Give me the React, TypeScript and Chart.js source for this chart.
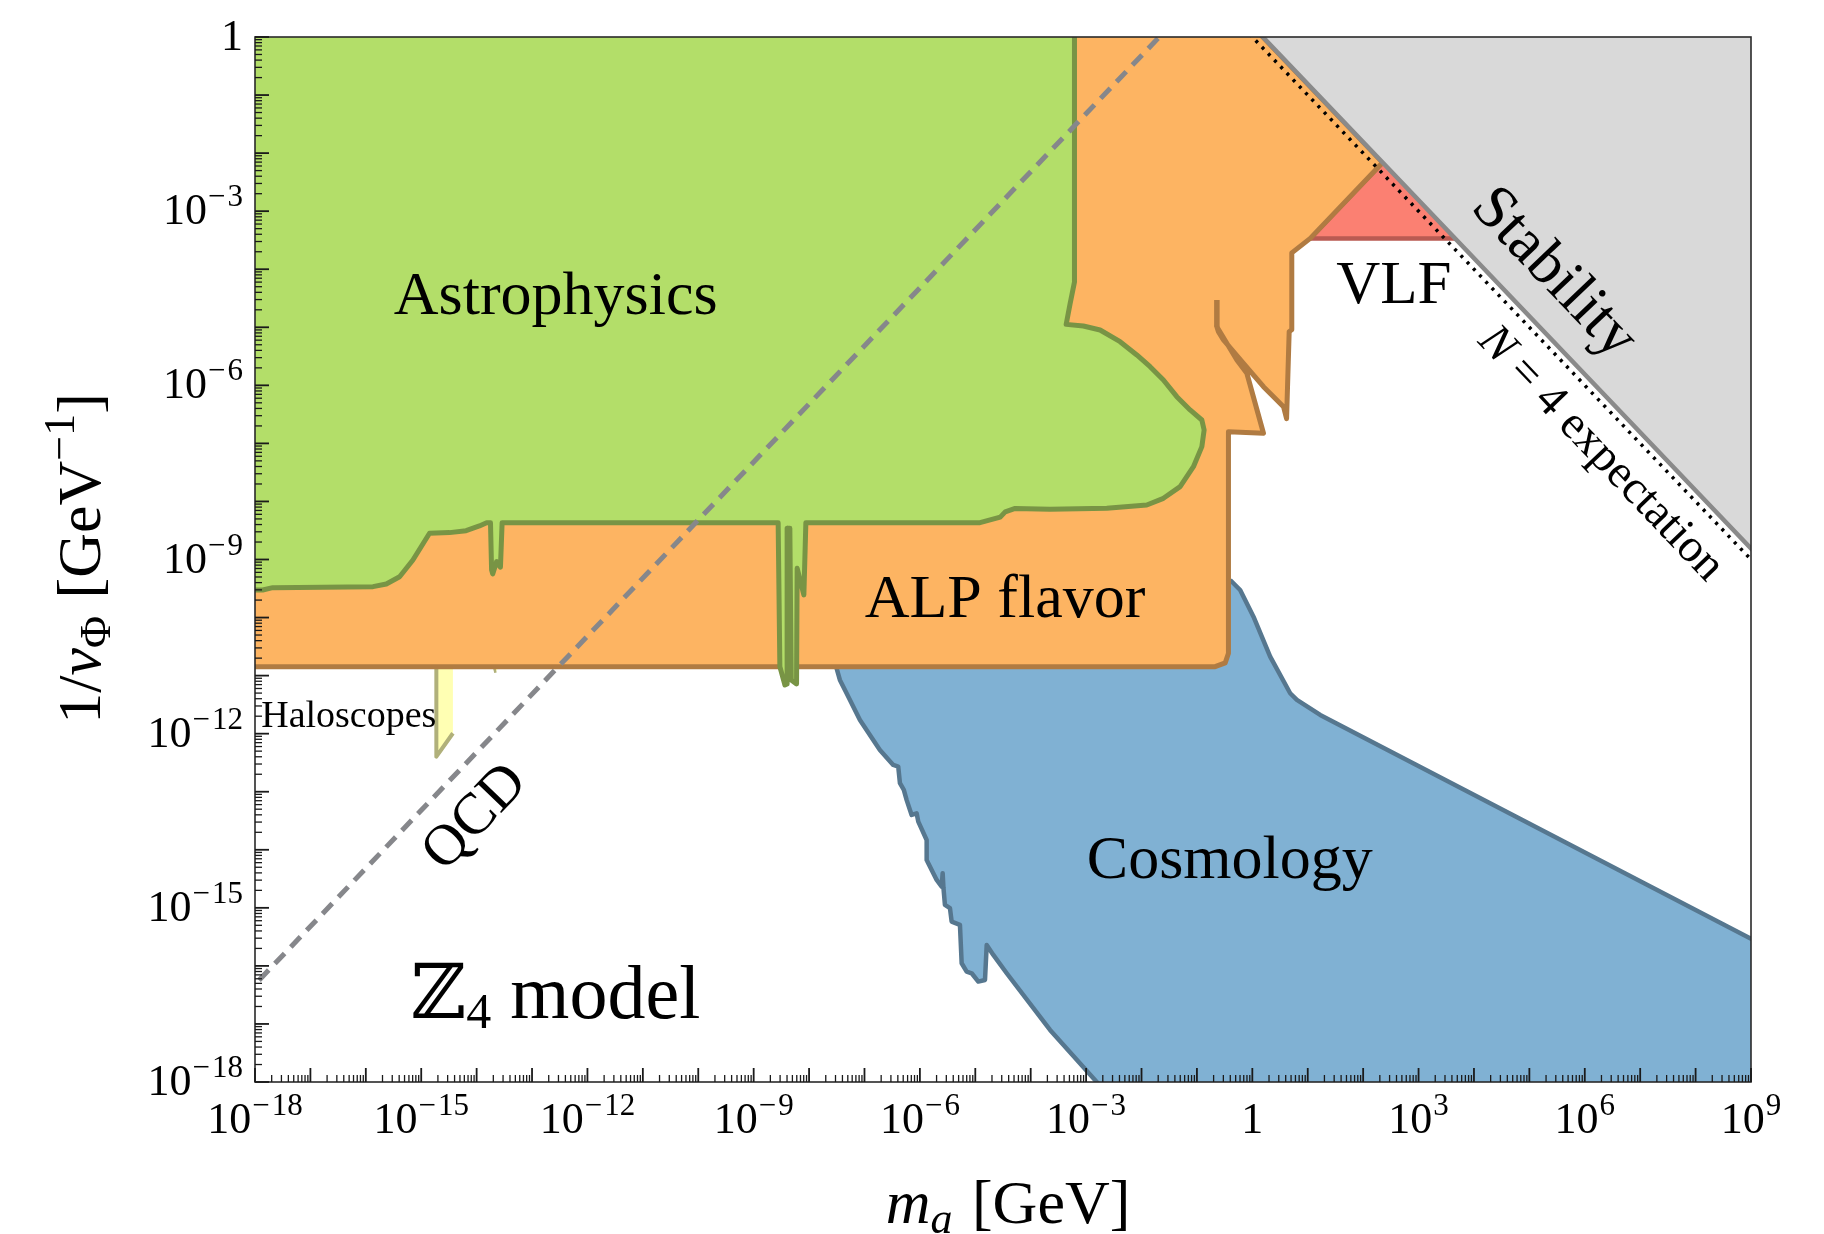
import React, { useEffect, useRef } from "react";
import { Chart, registerables } from "chart.js";

Chart.register(...registerables);

type P = [number, number]; // [log10 m_a (GeV), log10 1/v_Phi (GeV^-1)]

// ---- Region boundaries (log10 values) ----
const cosmology: P[] = [
  [-0.5, -9.3], [-7.55, -10.6], [-7.503, -10.874], [-7.444, -11.075], [-7.323, -11.304], [-7.082, -11.764],
  [-6.722, -12.281], [-6.481, -12.539], [-6.391, -12.567], [-6.36, -12.854], [-6.29, -12.97], [-6.24, -13.14],
  [-6.149, -13.4], [-6.059, -13.371], [-6.029, -13.515], [-5.878, -13.831], [-5.878, -14.175], [-5.697, -14.52],
  [-5.607, -14.635], [-5.589, -14.404], [-5.575, -14.65], [-5.548, -14.95], [-5.457, -15.007], [-5.427, -15.237],
  [-5.277, -15.294], [-5.246, -15.955], [-5.156, -16.098], [-5.065, -16.127], [-4.946, -16.27], [-4.825, -16.242],
  [-4.794, -15.639], [-4.675, -15.811], [-4.433, -16.127], [-3.651, -17.103], [-2.869, -17.935], [-2.34, -18.5],
  [9.5, -18.5], [9.5, -15.78], [1.225, -11.678], [0.804, -11.419], [0.683, -11.304], [0.322, -10.674],
  [0.021, -9.985], [-0.22, -9.525], [-0.4, -9.353],
];

const haloscopes: P[] = [[-14.428, -11.993], [-14.727, -12.396], [-14.727, -10.5], [-14.428, -10.5]];
const haloscopesSmall: P[] = [[-13.58, -10.8], [-13.7, -10.8], [-13.66, -10.95]];

const vlf: P[] = [[2.352, -2.162], [1.045, -3.469], [3.66, -3.469]];

const alpFlavor: P[] = [
  [-18, 0.5], [-0.31, 0.5], [2.352, -2.162], [1.045, -3.469], [0.712, -3.719], [0.712, -5.04], [0.665, -5.076],
  [0.618, -6.574], [0.563, -6.368], [0.201, -6.023], [-0.16, -5.62], [-0.521, -5.219], [-0.612, -5.076],
  [-0.64, -4.99], [-0.55, -5.133], [-0.279, -5.563], [-0.099, -5.792], [0.201, -6.826], [-0.431, -6.798],
  [-0.431, -10.615], [-0.49, -10.782], [-0.671, -10.846], [-18, -10.846],
];
const alpFlavorNotch: P[] = [[-0.64, -4.53], [-0.64, -4.99]];

const astrophysics: P[] = [
  [-18.5, 0.5], [-3.21, 0.5], [-3.21, -4.22], [-3.29, -4.6], [-3.36, -4.95], [-3.05, -4.978], [-2.748, -5.047],
  [-2.387, -5.248], [-2.085, -5.477], [-1.845, -5.679], [-1.605, -5.908], [-1.363, -6.195], [-1.123, -6.424],
  [-0.911, -6.597], [-0.87, -6.769], [-0.911, -7.056], [-1.063, -7.401], [-1.303, -7.745], [-1.605, -7.946],
  [-1.905, -8.061], [-2.627, -8.118], [-3.651, -8.135], [-4.28, -8.12], [-4.46, -8.18], [-4.55, -8.27],
  [-4.915, -8.366], [-8.058, -8.366], [-8.094, -9.611], [-8.215, -9.151], [-8.226, -11.144], [-8.323, -11.075],
  [-8.347, -8.462], [-8.388, -8.462], [-8.396, -11.144], [-8.437, -11.161], [-8.527, -10.846], [-8.558, -8.366],
  [-13.54, -8.366], [-13.57, -9.134], [-13.64, -9.037], [-13.71, -9.249], [-13.73, -9.18], [-13.75, -8.366],
  [-13.82, -8.366], [-13.95, -8.422], [-14.19, -8.503], [-14.49, -8.537], [-14.85, -8.548], [-15.15, -9.008],
  [-15.39, -9.296], [-15.63, -9.421], [-15.87, -9.468], [-17.68, -9.485], [-17.86, -9.525], [-18.5, -9.525],
];

const stability: P[] = [[9.5, 0.5], [-0.31, 0.5], [9.5, -9.31]];
const n4Expectation: P[] = [[-0.5, 0.5], [9.5, -9.5]];
const qcdLine: P[] = [[-18.5, -16.82], [-1.18, 0.5]];

// ---- Axes ----
const xMinExp = -18;
const xMaxExp = 9;
const yMinExp = -18;
const yMaxExp = 0;
const xTickExps = [-18, -15, -12, -9, -6, -3, 0, 3, 6, 9];
const yTickExps = [-18, -15, -12, -9, -6, -3, 0];

// ---- Text annotations (anchored in data coordinates) ----
const regionLabels: { text: string; at: P; size: number }[] = [
  { text: "Astrophysics", at: [-12.573, -4.771], size: 62 },
  { text: "ALP flavor", at: [-4.464, -9.985], size: 62 },
  { text: "Cosmology", at: [-0.406, -14.485], size: 62 },
  { text: "VLF", at: [2.555, -4.574], size: 61 },
];
const haloscopesLabelAt: P = [-17.888, -11.879];
const modelLabelAt: P = [-15.188, -16.905];
const stabilityLabelAt: P = [5.47, -4.048];
const n4LabelAt: P = [6.31, -7.16];
const qcdLabelAt: P = [-14.047, -13.424];

const FAMILY = "'Liberation Serif', 'DejaVu Serif', serif";
const fnt = (size: number, italic?: boolean) => `${italic ? "italic " : ""}${size}px ${FAMILY}`;

type Run = { t: string; size: number; italic?: boolean; dy?: number; gap?: number };

function runsWidth(ctx: CanvasRenderingContext2D, runs: Run[]) {
  let w = 0;
  for (const r of runs) {
    ctx.font = fnt(r.size, r.italic);
    w += ctx.measureText(r.t).width + (r.gap || 0);
  }
  return w;
}

function drawRuns(ctx: CanvasRenderingContext2D, runs: Run[], x: number, y: number) {
  let cx = x;
  for (const r of runs) {
    ctx.font = fnt(r.size, r.italic);
    ctx.fillText(r.t, cx, y + (r.dy || 0));
    cx += ctx.measureText(r.t).width + (r.gap || 0);
  }
}

function tickRuns(e: number): Run[] {
  if (e === 0) return [{ t: "1", size: 44 }];
  if (e < 0) {
    return [
      { t: "10", size: 44, gap: 1 },
      { t: "\u2212", size: 31, dy: -18, gap: 2 },
      { t: String(-e), size: 31, dy: -18 },
    ];
  }
  return [
    { t: "10", size: 44, gap: 1 },
    { t: String(e), size: 31, dy: -18 },
  ];
}

const toXY = (pts: P[]) => pts.map(([lx, ly]) => ({ x: Math.pow(10, lx), y: Math.pow(10, ly) }));

const overlay = {
  id: "overlay",
  afterDatasetsDraw(chart: any) {
    const { ctx, chartArea: a, scales } = chart;
    const xs = scales.x;
    const ys = scales.y;
    const px = (lx: number) => xs.getPixelForValue(Math.pow(10, lx));
    const py = (ly: number) => ys.getPixelForValue(Math.pow(10, ly));
    ctx.save();
    ctx.fillStyle = "#000";
    ctx.textAlign = "left";
    ctx.textBaseline = "alphabetic";

    // Region labels
    for (const l of regionLabels) {
      const runs: Run[] = [{ t: l.text, size: l.size }];
      const w = runsWidth(ctx, runs);
      drawRuns(ctx, runs, px(l.at[0]) - w / 2, py(l.at[1]));
    }
    drawRuns(ctx, [{ t: "Haloscopes", size: 38 }], px(haloscopesLabelAt[0]), py(haloscopesLabelAt[1]));
    drawRuns(
      ctx,
      [
        { t: "\u2124", size: 76 },
        { t: "4", size: 50, dy: 10 },
        { t: " model", size: 76 },
      ],
      px(modelLabelAt[0]),
      py(modelLabelAt[1])
    );

    // Rotated labels along the lines
    const decX = px(1) - px(0);
    const decY = py(-1) - py(0);
    const angDown = Math.atan2(decY, decX);
    const rotText = (runs: Run[], at: P, ang: number, size: number) => {
      ctx.save();
      ctx.translate(px(at[0]), py(at[1]));
      ctx.rotate(ang);
      const w = runsWidth(ctx, runs);
      drawRuns(ctx, runs, -w / 2, size * 0.3);
      ctx.restore();
    };
    rotText([{ t: "Stability", size: 62 }], stabilityLabelAt, angDown, 62);
    rotText(
      [
        { t: "N", size: 47, italic: true },
        { t: " = 4 expectation", size: 47 },
      ],
      n4LabelAt,
      angDown,
      47
    );
    rotText([{ t: "QCD", size: 58 }], qcdLabelAt, -angDown, 58);

    // Frame
    ctx.strokeStyle = "#2a2a2a";
    ctx.lineWidth = 1.6;
    ctx.strokeRect(a.left, a.top, a.right - a.left, a.bottom - a.top);

    // Ticks (inward)
    ctx.strokeStyle = "#1a1a1a";
    for (let k = xMinExp; k <= xMaxExp; k++) {
      for (let m = 1; m <= 9; m++) {
        const v = Math.log10(m) + k;
        if (v > xMaxExp + 1e-9) break;
        const x = px(v);
        const major = m === 1;
        ctx.lineWidth = major ? 1.8 : 1.3;
        ctx.beginPath();
        ctx.moveTo(x, a.bottom);
        ctx.lineTo(x, a.bottom - (major ? 14 : 7));
        ctx.stroke();
      }
    }
    for (let k = yMinExp; k <= yMaxExp; k++) {
      for (let m = 1; m <= 9; m++) {
        const v = Math.log10(m) + k;
        if (v > yMaxExp + 1e-9) break;
        const y = py(v);
        const major = m === 1;
        ctx.lineWidth = major ? 1.8 : 1.3;
        ctx.beginPath();
        ctx.moveTo(a.left, y);
        ctx.lineTo(a.left + (major ? 14 : 7), y);
        ctx.stroke();
      }
    }

    // Tick labels
    for (const e of xTickExps) {
      const runs = tickRuns(e);
      const w = runsWidth(ctx, runs);
      drawRuns(ctx, runs, px(e) - w / 2, a.bottom + 51);
    }
    for (const e of yTickExps) {
      const runs = tickRuns(e);
      const w = runsWidth(ctx, runs);
      drawRuns(ctx, runs, a.left - 12 - w, py(e) + 13);
    }

    // Axis titles
    const xTitle: Run[] = [
      { t: "m", size: 62, italic: true },
      { t: "a", size: 44, italic: true, dy: 10, gap: 4 },
      { t: " [GeV]", size: 62 },
    ];
    const xw = runsWidth(ctx, xTitle);
    drawRuns(ctx, xTitle, (a.left + a.right) / 2 + 5 - xw / 2, a.bottom + 141);

    const yTitle: Run[] = [
      { t: "1/", size: 62 },
      { t: "v", size: 62, italic: true },
      { t: "\u03A6", size: 44, dy: 10, gap: 2 },
      { t: " [GeV", size: 62 },
      { t: "\u22121", size: 44, dy: -26 },
      { t: "]", size: 62 },
    ];
    const yw = runsWidth(ctx, yTitle);
    ctx.save();
    ctx.translate(100, (a.top + a.bottom) / 2 - 1);
    ctx.rotate(-Math.PI / 2);
    drawRuns(ctx, yTitle, -yw / 2, 0);
    ctx.restore();

    ctx.restore();
  },
};

function region(label: string, pts: P[], fill: string, stroke: string, order: number, width = 4) {
  return {
    label,
    data: toXY(pts),
    showLine: true,
    fill: "shape",
    backgroundColor: fill,
    borderColor: stroke,
    borderWidth: width,
    borderJoinStyle: "round",
    pointRadius: 0,
    pointHoverRadius: 0,
    tension: 0,
    clip: 0,
    order,
  };
}

function line(label: string, pts: P[], stroke: string, width: number, dash: number[], order: number) {
  return {
    label,
    data: toXY(pts),
    showLine: true,
    fill: false,
    borderColor: stroke,
    borderWidth: width,
    borderDash: dash,
    borderCapStyle: "butt",
    pointRadius: 0,
    pointHoverRadius: 0,
    tension: 0,
    clip: 0,
    order,
  };
}

export default function App() {
  const ref = useRef<HTMLCanvasElement | null>(null);
  useEffect(() => {
    if (!ref.current) return;
    document.body.style.margin = "0";
    document.body.style.overflow = "hidden";
    const chart = new Chart(ref.current, {
      type: "scatter",
      data: {
        datasets: [
          region("Cosmology", cosmology, "#80b1d3", "#56778f", 20, 4.5),
          region("Haloscopes", haloscopes, "#ffffb3", "#b0b07a", 19, 4),
          region("Haloscopes2", haloscopesSmall, "#ffffb3", "#b0b07a", 18, 2.5),
          region("VLF", vlf, "#fb8072", "#b95a52", 17, 4.5),
          region("ALP flavor", alpFlavor, "#fdb462", "#b07b42", 16, 5),
          line("ALP notch", alpFlavorNotch, "#b07b42", 5.5, [], 15),
          region("Astrophysics", astrophysics, "#b3de69", "#789445", 14, 5),
          region("Stability", stability, "#d9d9d9", "#8a8a8a", 13, 4.5),
          line("N=4", n4Expectation, "#000000", 3.5, [3, 6], 12),
          line("QCD", qcdLine, "#86878b", 5, [14, 9], 11),
        ] as any,
      },
      options: {
        responsive: false,
        animation: false,
        devicePixelRatio: 1,
        events: [],
        layout: { padding: { left: 255, right: 73, top: 37, bottom: 152 } },
        plugins: {
          legend: { display: false },
          tooltip: { enabled: false },
        },
        scales: {
          x: { type: "logarithmic", min: Math.pow(10, xMinExp), max: Math.pow(10, xMaxExp), display: false },
          y: { type: "logarithmic", min: Math.pow(10, yMinExp), max: Math.pow(10, yMaxExp), display: false },
        },
      } as any,
      plugins: [overlay],
    });
    return () => chart.destroy();
  }, []);

  return (
    <div style={{ position: "absolute", left: 0, top: 0, width: 1824, height: 1234, background: "#fff" }}>
      <canvas ref={ref} width={1824} height={1234} style={{ display: "block", width: 1824, height: 1234 }} />
    </div>
  );
}
